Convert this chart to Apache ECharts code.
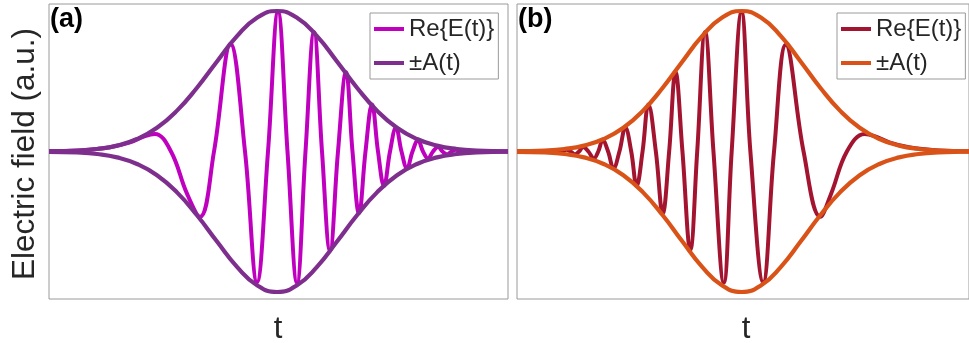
<!DOCTYPE html>
<html><head><meta charset="utf-8">
<script src="https://cdn.jsdelivr.net/npm/echarts@6/dist/echarts.min.js"></script>
<style>html,body{margin:0;padding:0;background:#fff}#c{width:969px;height:343px}</style>
</head><body><div id="c"></div>
<script>
// ---- Data (time in arbitrary units, 0 = pulse centre; field in a.u.) ----
// Panel (a): up-chirped pulse, Re{E(t)} extrema and zero crossings
const reA_t = [-22.8,-19.7,-16.7,-14.7,-13.2,-12.2,-10.6,-9.0,-7.7,-6.3,-4.65,-3.2,-2.0,-0.9,0.1,1.05,2.0,2.85,3.7,4.5,5.3,6.1,6.9,7.55,8.2,8.85,9.5,10.1,10.7,11.3,11.9,12.45,13.0,13.55,14.1,14.6,15.1,15.6,16.1,16.55,17.0,17.45,17.9,18.3,18.7,19.1,19.5,21.3,23.1];
const reA_v = [0.002,0.008,0.03,0.065,0.11,0.125,0,-0.3,-0.465,0,0.765,0,-0.93,0,0.995,0,-0.935,0,0.85,0,-0.705,0,0.565,0,-0.44,0,0.335,0,-0.245,0,0.17,0,-0.12,0,0.08,0,-0.05,0,0.032,0,-0.02,0,0.012,0,-0.007,0,0.004,0.001,0];
// Panel (b): down-chirped pulse
const reB_t = [-22.8,-21.0,-19.4,-19.0,-18.6,-18.2,-17.8,-17.35,-16.9,-16.5,-16.1,-15.55,-15.0,-14.55,-14.1,-13.55,-13.0,-12.4,-11.8,-11.2,-10.65,-10.05,-9.45,-8.7,-8.0,-7.35,-6.7,-6.0,-5.2,-4.5,-3.7,-2.85,-1.8,-1.0,0,0.9,2.2,3.3,4.5,6.3,8.0,9.1,10.7,12.5,13.5,15.0,17.0,20.0,23.1];
const reB_v = [0,0.001,0.004,0,-0.007,0,0.012,0,-0.02,0,0.032,0,-0.05,0,0.08,0,-0.12,0,0.17,0,-0.245,0,0.335,0,-0.44,0,0.565,0,-0.7,0,0.85,0,-0.935,0,0.995,0,-0.93,0,0.76,0,-0.465,-0.3,0,0.125,0.11,0.065,0.03,0.008,0.002];
// Envelope ±A(t) (same in both panels)
const envT = [-22.8,-20,-18,-16,-14,-12,-10,-8,-6,-4,-2,0,2,4,6,8,10,12,14,16,18,20,23.1];
const envUp = [0.002,0.007,0.018,0.042,0.089,0.169,0.291,0.454,0.641,0.821,0.952,1,0.952,0.821,0.641,0.454,0.291,0.169,0.089,0.042,0.018,0.007,0.001];
const envDown = [-0.002,-0.007,-0.018,-0.042,-0.089,-0.169,-0.291,-0.454,-0.641,-0.821,-0.952,-1,-0.952,-0.821,-0.641,-0.454,-0.291,-0.169,-0.089,-0.042,-0.018,-0.007,-0.001];

const panelLabels = ['(a)', '(b)'];
const legendNames = ['Re{E(t)}', '±A(t)'];
const xLabel = 't';
const yLabel = 'Electric field (a.u.)';

// ---- Build ----
const pairs = (t, v) => t.map((x, i) => [x, v[i]]);
const FONT = "'Liberation Sans', Arial, sans-serif";
const TXT = '#262626';
const BOX = '#9a9a9a';
const colors = [
  { re: '#BF00BF', env: '#7E2F8E' },
  { re: '#A2142F', env: '#D95319' }
];
const gridLeft = [49, 517];
const legendLeft = [370, 837];
const centreX = [278, 746];

const grids = [], xAxes = [], yAxes = [], series = [], legends = [], graphics = [];
[[reA_t, reA_v], [reB_t, reB_v]].forEach(([t, v], p) => {
  const sfx = p === 0 ? '' : '#b';
  grids.push({ left: gridLeft[p], top: 4, width: 459, height: 295, show: true, borderColor: BOX, borderWidth: 1, backgroundColor: 'transparent' });
  xAxes.push({ type: 'value', gridIndex: p, min: -22.8, max: 23.1, axisLine: { show: false }, axisTick: { show: false }, axisLabel: { show: false }, splitLine: { show: false } });
  yAxes.push({ type: 'value', gridIndex: p, min: -1.05, max: 1.05, axisLine: { show: false }, axisTick: { show: false }, axisLabel: { show: false }, splitLine: { show: false } });
  series.push({ type: 'line', name: legendNames[0] + sfx, xAxisIndex: p, yAxisIndex: p, data: pairs(t, v), smooth: 0.4, symbol: 'none', lineStyle: { color: colors[p].re, width: 4 }, itemStyle: { color: colors[p].re } });
  series.push({ type: 'line', name: legendNames[1] + sfx, xAxisIndex: p, yAxisIndex: p, data: pairs(envT, envUp), smooth: 0.5, symbol: 'none', lineStyle: { color: colors[p].env, width: 4.2 }, itemStyle: { color: colors[p].env } });
  series.push({ type: 'line', name: legendNames[1] + sfx, xAxisIndex: p, yAxisIndex: p, data: pairs(envT, envDown), smooth: 0.5, symbol: 'none', lineStyle: { color: colors[p].env, width: 4.2 }, itemStyle: { color: colors[p].env } });
  legends.push({
    data: legendNames.map(n => n + sfx), orient: 'vertical', left: legendLeft[p], top: 13,
    icon: 'rect', itemWidth: 30, itemHeight: 4, itemGap: 10,
    padding: [4, 4, 4, 4], backgroundColor: '#fff', borderColor: BOX, borderWidth: 1, borderRadius: 0,
    selectedMode: false,
    formatter: n => n.replace('#b', ''),
    textStyle: { fontFamily: FONT, fontSize: 24, color: TXT, lineHeight: 24 }
  });
  graphics.push({ type: 'text', left: gridLeft[p] + 1, top: 6, style: { text: panelLabels[p], font: 'bold 27px ' + FONT, fill: '#000' } });
  graphics.push({ type: 'text', x: centreX[p], y: 329, style: { text: xLabel, font: '31px ' + FONT, fill: TXT, textAlign: 'center', textVerticalAlign: 'middle' } });
});
graphics.push({ type: 'text', x: 25, y: 154, rotation: Math.PI / 2, style: { text: yLabel, font: '31.5px ' + FONT, fill: TXT, textAlign: 'center', textVerticalAlign: 'middle' } });

const chart = echarts.init(document.getElementById('c'), null, { renderer: 'canvas' });
chart.setOption({
  animation: false,
  backgroundColor: '#fff',
  grid: grids, xAxis: xAxes, yAxis: yAxes, series: series, legend: legends, graphic: graphics
});
</script>
</body></html>
